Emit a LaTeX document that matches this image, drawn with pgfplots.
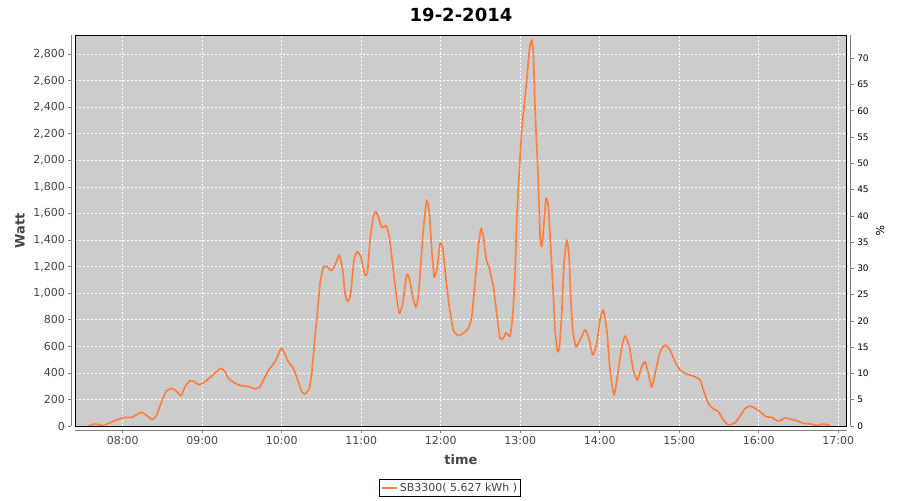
\documentclass[border=0pt]{standalone}
\usepackage{pgfplots}
\pgfplotsset{compat=1.18}
\usepackage{fontspec}
\setmainfont{DejaVu Sans}
\definecolor{bggray}{RGB}{204,204,204}
\definecolor{axisgray}{RGB}{128,128,128}
\definecolor{labelgray}{RGB}{68,68,68}
\definecolor{lineorange}{RGB}{255,128,64}
\begin{document}
\begin{tikzpicture}
\begin{axis}[name=ax, at={(0,0)}, anchor=south west,
  scale only axis, width=771.4pt, height=391pt,
  xmin=7.404, xmax=17.106, ymin=0, ymax=2943,
  axis x line*=bottom, axis y line*=left,
  axis x line shift=4pt, axis y line shift=4pt,
  axis line style={-, draw=axisgray, line width=0.8pt},
  xtick={8,9,10,11,12,13,14,15,16,17},
  xticklabels={08:00,09:00,10:00,11:00,12:00,13:00,14:00,15:00,16:00,17:00},
  ytick={0,200,...,2800},
  scaled y ticks=false,
  /pgf/number format/1000 sep={,},
  /pgf/number format/assume math mode=true,
  tick style={draw=axisgray, line width=0.6pt},
  major tick length=3pt, tick align=outside,
  tick label style={font=\fontsize{11}{13}\selectfont, text=labelgray},
  grid=major,
  major grid style={white, dash pattern=on 2pt off 2pt, line width=0.7pt},
  axis background/.style={fill=bggray},
  xlabel={time}, ylabel={Watt},
  xlabel style={at={(axis description cs:0.5,-0.087)}, anchor=center, font=\bfseries\fontsize{13}{15}\selectfont, text=labelgray},
  ylabel style={at={(axis description cs:-0.0717,0.50)}, anchor=center, rotate=0, font=\bfseries\fontsize{13}{15}\selectfont, text=labelgray},
  title={19-2-2014},
  title style={at={(axis description cs:0.5,1.036)}, anchor=center, font=\bfseries\fontsize{18}{20}\selectfont},
  legend style={at={(axis description cs:0.4857,-0.1586)}, anchor=center, draw=black, line width=0.8pt, fill=white,
    font=\fontsize{11}{13}\selectfont, text=labelgray, inner xsep=1.5pt, inner ysep=1.5pt},
  legend image code/.code={\draw[lineorange, line width=2pt] (0pt,0pt) -- (15pt,0pt);},
]
\addplot[lineorange, line width=1.7pt, line join=round, smooth, tension=0.3] coordinates {
(7.567,0) (7.652,15) (7.756,3) (7.840,25) (7.945,50) (8.008,63) (8.113,65) (8.239,103)
(8.372,50) (8.428,83) (8.498,196) (8.553,266) (8.616,283) (8.670,266) (8.733,226) (8.784,296)
(8.847,341) (8.901,333) (8.960,311) (9.035,333) (9.119,376) (9.233,434) (9.287,410) (9.337,354)
(9.454,309) (9.580,297) (9.664,281) (9.727,296) (9.831,416) (9.916,484) (10.000,585) (10.083,484)
(10.146,434) (10.209,333) (10.252,258) (10.293,241) (10.347,284) (10.377,396) (10.419,672) (10.448,848)
(10.482,1074) (10.523,1194) (10.566,1200) (10.629,1169) (10.683,1229) (10.725,1287) (10.767,1174) (10.796,999)
(10.830,936) (10.868,999) (10.909,1250) (10.951,1312) (10.994,1274) (11.048,1137) (11.077,1150) (11.111,1400)
(11.152,1575) (11.182,1613) (11.215,1575) (11.258,1495) (11.312,1508) (11.353,1425) (11.396,1212) (11.438,999)
(11.479,848) (11.522,924) (11.572,1137) (11.605,1112) (11.648,973) (11.686,893) (11.718,973) (11.748,1212)
(11.781,1475) (11.824,1700) (11.857,1601) (11.887,1325) (11.919,1118) (11.957,1199) (11.991,1375) (12.025,1345)
(12.067,1099) (12.108,898) (12.158,723) (12.221,680) (12.284,698) (12.347,735) (12.390,823) (12.431,1074)
(12.473,1350) (12.507,1488) (12.536,1425) (12.570,1262) (12.611,1187) (12.662,1049) (12.704,848) (12.746,660)
(12.787,660) (12.821,702) (12.872,677) (12.906,840) (12.935,1149) (12.956,1551) (12.989,1927) (13.019,2228)
(13.048,2403) (13.082,2604) (13.115,2830) (13.145,2905) (13.165,2805) (13.187,2378) (13.208,2102) (13.228,1827)
(13.250,1425) (13.270,1350) (13.291,1475) (13.325,1714) (13.354,1651) (13.375,1425) (13.409,1074) (13.438,723)
(13.467,559) (13.492,590) (13.522,848) (13.551,1225) (13.585,1400) (13.614,1274) (13.635,973) (13.660,723)
(13.702,597) (13.752,647) (13.815,723) (13.857,672) (13.912,534) (13.962,622) (14.003,798) (14.045,873)
(14.088,723) (14.130,421) (14.180,233) (14.234,421) (14.277,597) (14.318,677) (14.372,597) (14.423,421)
(14.473,346) (14.528,446) (14.570,484) (14.611,397) (14.654,291) (14.696,397) (14.759,559) (14.822,610)
(14.884,572) (14.947,484) (15.001,427) (15.094,391) (15.199,371) (15.262,346) (15.303,271) (15.366,171)
(15.421,133) (15.492,108) (15.555,45) (15.618,8) (15.702,25) (15.765,75) (15.828,133) (15.891,150)
(15.954,133) (16.017,108) (16.092,70) (16.164,65) (16.227,40) (16.269,40) (16.331,60) (16.394,53)
(16.478,40) (16.561,20) (16.645,15) (16.730,5) (16.813,15) (16.897,5)
};
\addlegendentry{SB3300( 5.627 kWh )}
\end{axis}
\begin{axis}[at={(0,0)}, anchor=south west,
  scale only axis, width=771.4pt, height=391pt,
  xmin=7.404, xmax=17.106, ymin=0, ymax=74.43,
  axis x line=none, axis y line*=right, axis y line shift=4pt,
  axis line style={-, draw=axisgray, line width=0.8pt},
  ytick={0,5,...,70},
  /pgf/number format/assume math mode=true,
  tick style={draw=axisgray, line width=0.6pt},
  major tick length=3pt, tick align=outside,
  tick label style={font=\fontsize{9}{11}\selectfont, text=black},
  ylabel={\%},
  ylabel style={at={(axis description cs:1.0432,0.50)}, anchor=center, rotate=180, font=\fontsize{11}{13}\selectfont},
]
\end{axis}
\draw[black, line width=0.9pt] (ax.south west) rectangle (ax.north east);
\pgfresetboundingbox
\path[use as bounding box] ([xshift=-75.3pt,yshift=-74pt]ax.south west) rectangle ([xshift=53.3pt,yshift=35pt]ax.north east);
\end{tikzpicture}
\end{document}
